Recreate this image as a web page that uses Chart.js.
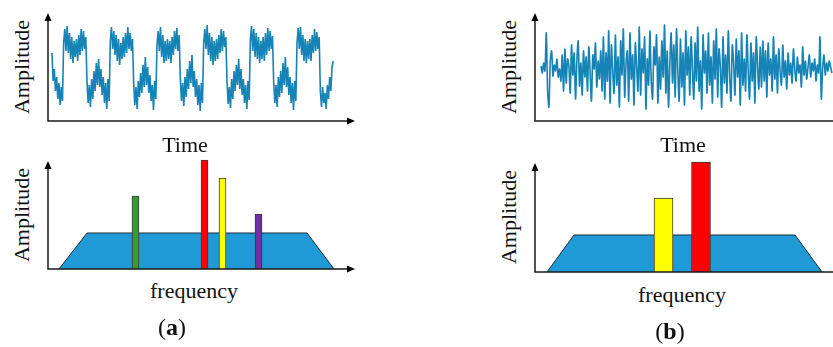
<!DOCTYPE html>
<html>
<head>
<meta charset="utf-8">
<script src="https://cdn.jsdelivr.net/npm/chart.js@4/dist/chart.umd.min.js"></script>
<style>
body { margin:0; background:#fff; width:833px; height:347px; position:relative; overflow:hidden; font-family:'Liberation Serif','Times New Roman',serif; }
canvas { position:absolute; }
.lbl { position:absolute; font-size:22px; color:#111; white-space:nowrap; line-height:1; transform:translate(-50%,-50%); }
.rot { transform:translate(-50%,-50%) rotate(-90deg); }
.tag { font-size:24px; }
</style>
</head>
<body>
<canvas id="sigA" width="322" height="120" style="left:40px;top:6px"></canvas>
<canvas id="sigB" width="306" height="120" style="left:527px;top:6px"></canvas>
<canvas id="specA" width="322" height="122" style="left:40px;top:152px"></canvas>
<canvas id="specB" width="306" height="122" style="left:527px;top:155px"></canvas>

<div class="lbl rot" style="left:22px;top:67px">Amplitude</div>
<div class="lbl rot" style="left:509px;top:67px">Amplitude</div>
<div class="lbl rot" style="left:22px;top:215px">Amplitude</div>
<div class="lbl rot" style="left:509px;top:217px">Amplitude</div>
<div class="lbl" style="left:185px;top:145px">Time</div>
<div class="lbl" style="left:683px;top:145px">Time</div>
<div class="lbl" style="left:194px;top:291px">frequency</div>
<div class="lbl" style="left:682px;top:295px">frequency</div>
<div class="lbl tag" style="left:172px;top:327px">(<b>a</b>)</div>
<div class="lbl tag" style="left:670px;top:331px">(<b>b</b>)</div>

<script>
// (a) periodic signal: square-ish wave with ripple, one value per sample
const signalA = [
    68, 40, 52, 30, 44, 22, 38, 16, 34, 20,
    78, 92, 70, 95, 68, 88, 62, 84, 58, 80, 64, 82, 60, 86, 66, 92, 70, 90, 72, 84,
    40, 18, 36, 14, 42, 22, 50, 30, 58, 36, 62, 34, 52, 26, 44, 18, 38, 12, 42, 20,
    80, 94, 72, 90, 66, 86, 60, 82, 56, 78, 62, 84, 64, 88, 68, 94, 72, 88, 70, 82,
    38, 16, 34, 12, 40, 24, 48, 28, 56, 34, 64, 36, 54, 28, 46, 20, 36, 11, 40, 22,
    76, 90, 70, 94, 64, 86, 58, 80, 60, 82, 62, 80, 58, 84, 66, 90, 72, 93, 70, 86,
    42, 20, 38, 15, 44, 24, 52, 32, 60, 38, 66, 34, 50, 24, 42, 16, 36, 10, 38, 18,
    78, 92, 72, 96, 66, 88, 60, 84, 56, 80, 60, 82, 62, 86, 68, 92, 70, 90, 74, 84,
    40, 17, 34, 13, 42, 22, 50, 30, 56, 36, 62, 32, 52, 26, 42, 18, 36, 12, 40, 21,
    80, 95, 70, 92, 64, 88, 62, 84, 58, 80, 62, 84, 60, 88, 66, 93, 70, 90, 72, 85,
    39, 18, 36, 14, 44, 24, 50, 28, 58, 36, 64, 34, 54, 26, 44, 18, 38, 11, 40, 20,
    78, 93, 72, 94, 66, 86, 60, 82, 58, 80, 62, 82, 60, 86, 68, 92, 70, 89, 72, 84,
    30, 14, 34, 18, 28, 12, 36, 22, 44, 30, 54, 60
];

// (b) noise-like signal
const signalB = [
    55, 48, 58, 50, 88, 30, 14, 60, 70, 45, 56, 50, 62, 44, 52,
    40, 66, 30, 72, 38, 62, 55, 28, 76, 46, 68, 22, 60, 80, 35, 58, 26, 70, 44, 64,
    30, 74, 48, 20, 66, 52, 78, 34, 60, 42, 70,
    30, 84, 22, 68, 40, 90, 18, 76, 50, 28, 86, 36, 64, 14, 80, 46, 92, 24, 58, 70,
    20, 88, 42, 66, 16, 78, 54, 30, 94, 26, 72, 48, 84, 12, 62, 36, 90, 40, 22, 74,
    56, 86, 18, 64, 32, 80, 44, 96, 28, 70, 14, 58, 88, 38, 76, 24, 92, 50, 20, 82,
    34, 68, 16, 90, 46, 74, 26, 84, 52, 22, 78, 40, 94, 30, 60, 12, 86, 48, 70, 28,
    88, 36, 64, 18, 80, 42, 92, 24, 72, 54, 14, 84, 38, 66, 28, 90, 46, 20, 76, 58,
    26, 82, 44, 70, 16, 88, 36, 62, 30, 86, 50, 22, 78, 40, 68, 18, 84, 56, 32, 74,
    34, 80, 40, 70, 24, 78, 46, 62, 30, 84, 42, 66, 28, 72, 50, 36, 76, 44, 60, 32,
    68, 46, 58, 38, 72, 52, 40, 64, 48, 56, 34, 74, 46, 60, 42, 54, 66, 44, 58, 50,
    62, 40, 56, 48, 84, 22, 52, 66, 46, 58, 50, 60, 54, 48
];

// spectra: tone peaks on top of a band
const peakFreqA = [87.5, 156.5, 174.5, 210.5];
const peakAmpA = [73, 109, 91, 55];
const peakColorsA = ['#3c9a34', '#ff0000', '#ffff00', '#7030a0'];
const bandFreqA = [11, 39, 259, 286];
const bandAmpA = [0, 36, 36, 0];

const peakFreqB = [128.5, 166];
const peakAmpB = [74, 110];
const peakColorsB = ['#ffff00', '#ff0000'];
const bandFreqB = [12, 39, 260, 287];
const bandAmpB = [0, 37, 37, 0];

const SIGNAL_BLUE = '#1583b6';
const BAND_BLUE = '#1f9ad6';

// axis lines with arrow heads
const axisArrows = {
    id: 'axisArrows',
    afterDraw(chart, args, opts) {
        const ctx = chart.ctx;
        const a = chart.chartArea;
        ctx.save();
        ctx.strokeStyle = '#1a1a1a';
        ctx.fillStyle = '#000';
        ctx.lineWidth = 1.5;
        ctx.beginPath();
        ctx.moveTo(a.left, a.bottom);
        ctx.lineTo(a.left, a.top + 6);
        ctx.moveTo(a.left - 0.75, a.bottom);
        ctx.lineTo(opts.arrowRight ? a.right - 6 : chart.width, a.bottom);
        ctx.stroke();
        ctx.beginPath();
        ctx.moveTo(a.left, a.top);
        ctx.lineTo(a.left - 3.5, a.top + 8);
        ctx.lineTo(a.left + 3.5, a.top + 8);
        ctx.closePath();
        if (opts.arrowRight) {
            ctx.moveTo(a.right, a.bottom);
            ctx.lineTo(a.right - 8, a.bottom - 3.5);
            ctx.lineTo(a.right - 8, a.bottom + 3.5);
            ctx.closePath();
        }
        ctx.fill();
        ctx.restore();
    }
};

function baseOptions(padding, xMin, xMax, yMax, arrowRight) {
    return {
        responsive: false,
        animation: false,
        events: [],
        layout: { padding: padding },
        plugins: {
            legend: { display: false },
            tooltip: { enabled: false },
            axisArrows: { arrowRight: arrowRight }
        },
        scales: {
            x: { type: 'linear', display: false, offset: false, min: xMin, max: xMax },
            y: { display: false, min: 0, max: yMax }
        }
    };
}

function signalChart(id, values, padding, xMin, xMax, arrowRight, tension) {
    return new Chart(document.getElementById(id), {
        type: 'line',
        data: {
            datasets: [{
                data: values.map((v, i) => ({ x: i, y: v })),
                borderColor: SIGNAL_BLUE,
                borderWidth: 1.6,
                pointRadius: 0,
                tension: tension,
                clip: false
            }]
        },
        options: baseOptions(padding, xMin, xMax, 108, arrowRight),
        plugins: [axisArrows]
    });
}

function spectrumChart(id, bandF, bandA, peakF, peakA, colors, barWidth, padding, xMax, yMax, arrowRight) {
    return new Chart(document.getElementById(id), {
        type: 'line',
        data: {
            datasets: [
                {
                    type: 'line',
                    data: bandF.map((f, i) => ({ x: f, y: bandA[i] })),
                    borderColor: '#1b2b36',
                    borderWidth: 1,
                    backgroundColor: BAND_BLUE,
                    fill: 'origin',
                    pointRadius: 0,
                    tension: 0,
                    order: 2
                },
                {
                    type: 'bar',
                    data: peakF.map((f, i) => ({ x: f, y: peakA[i] })),
                    backgroundColor: colors,
                    borderColor: '#3a3a3a',
                    borderWidth: 1,
                    barThickness: barWidth,
                    grouped: false,
                    clip: false,
                    order: 1
                }
            ]
        },
        options: baseOptions(padding, 0, xMax, yMax, arrowRight),
        plugins: [axisArrows]
    });
}

signalChart('sigA', signalA, { left: 8, top: 7, right: 7, bottom: 5 }, -3.4, 259.7, true, 0);
signalChart('sigB', signalB, { left: 8, top: 7, right: 0, bottom: 5 }, -4.5, 219.8, false, 0.3);
spectrumChart('specA', bandFreqA, bandAmpA, peakFreqA, peakAmpA, peakColorsA, 7,
    { left: 8, top: 9, right: 7, bottom: 5 }, 307, 108, true);
spectrumChart('specB', bandFreqB, bandAmpB, peakFreqB, peakAmpB, peakColorsB, 19,
    { left: 8, top: 8, right: 0, bottom: 5 }, 298, 109, false);
</script>
</body>
</html>
